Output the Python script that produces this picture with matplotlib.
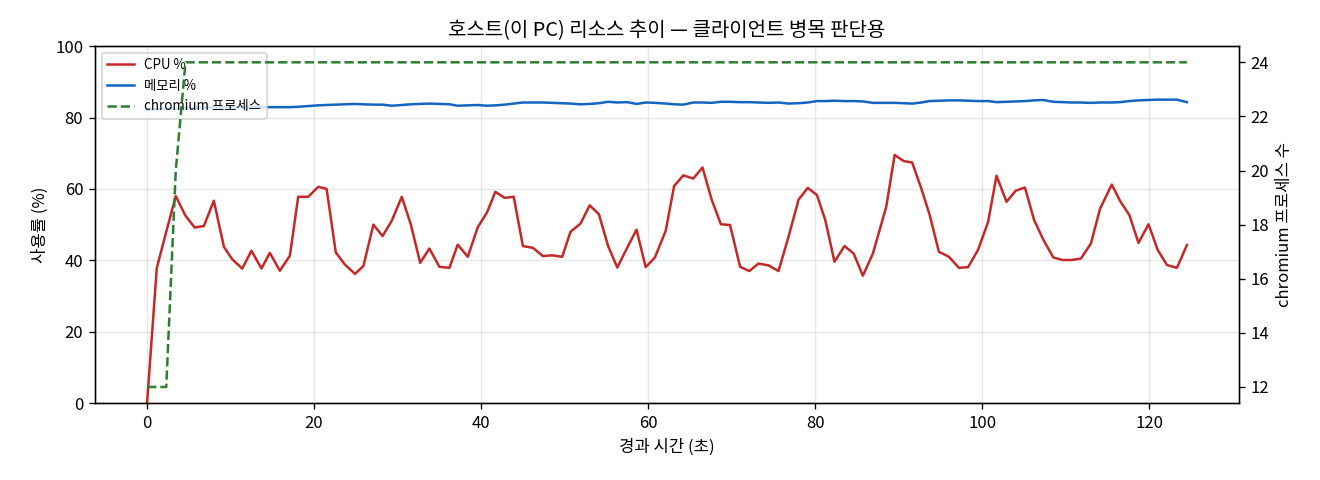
import matplotlib
matplotlib.use("Agg")
import matplotlib.pyplot as plt

plt.rcParams['font.family'] = ['Noto Sans CJK KR', 'DejaVu Sans']
plt.rcParams['axes.unicode_minus'] = False

# elapsed seconds of each sample
elapsed = [
    0.0, 1.17, 2.3, 3.44, 4.6, 5.7, 6.8, 8.0, 9.2, 10.2,
    11.4, 12.5, 13.7, 14.7, 15.9, 17.1, 18.1, 19.3, 20.5, 21.5,
    22.6, 23.7, 24.9, 25.9, 27.1, 28.2, 29.3, 30.5, 31.6, 32.7,
    33.8, 35.0, 36.2, 37.2, 38.4, 39.6, 40.7, 41.7, 42.8, 43.9,
    45.0, 46.2, 47.4, 48.5, 49.7, 50.7, 51.9, 53.0, 54.1, 55.2,
    56.3, 57.5, 58.6, 59.7, 60.8, 62.1, 63.1, 64.2, 65.4, 66.5,
    67.6, 68.7, 69.8, 71.0, 72.1, 73.2, 74.4, 75.6, 76.8, 78.0,
    79.1, 80.2, 81.2, 82.3, 83.5, 84.6, 85.7, 86.9, 88.5, 89.5,
    90.6, 91.6, 92.7, 93.7, 94.8, 96.0, 97.2, 98.3, 99.5, 100.7,
    101.7, 102.9, 104.0, 105.1, 106.2, 107.3, 108.5, 109.6, 110.7, 111.8,
    113.0, 114.1, 115.5, 116.5, 117.6, 118.7, 119.9, 121.0, 122.1, 123.3,
    124.5,
]

cpu_pct = [
    0.0, 37.9, 48.0, 58.0, 52.5, 49.2, 49.6, 56.7, 43.8, 40.3,
    37.7, 42.7, 37.7, 42.1, 37.1, 41.3, 57.8, 57.8, 60.6, 60.0,
    42.2, 38.8, 36.2, 38.4, 50.0, 46.8, 51.1, 57.8, 49.9, 39.3,
    43.3, 38.2, 37.9, 44.4, 41.0, 49.3, 53.4, 59.2, 57.5, 57.8,
    44.0, 43.5, 41.2, 41.4, 41.0, 48.0, 50.3, 55.4, 52.9, 44.0,
    38.0, 43.6, 48.6, 38.1, 40.8, 48.3, 60.8, 63.8, 62.9, 66.0,
    57.0, 50.1, 49.9, 38.2, 37.0, 39.1, 38.6, 37.0, 46.6, 57.0,
    60.3, 58.3, 51.3, 39.6, 44.0, 41.9, 35.7, 41.9, 55.0, 69.5,
    67.8, 67.4, 60.1, 52.7, 42.4, 41.0, 37.9, 38.1, 43.0, 50.8,
    63.7, 56.4, 59.5, 60.4, 51.3, 45.8, 40.8, 40.1, 40.1, 40.5,
    44.7, 54.5, 61.2, 56.6, 52.7, 44.9, 50.1, 42.9, 38.7, 37.9,
    44.3,
]

mem_pct = [
    82.2, 82.3, 82.4, 82.5, 82.6, 82.7, 82.8, 82.8, 82.9, 82.9,
    82.8, 82.8, 82.9, 82.9, 82.9, 82.9, 83.0, 83.2, 83.4, 83.5,
    83.6, 83.7, 83.8, 83.7, 83.6, 83.6, 83.3, 83.5, 83.7, 83.8,
    83.9, 83.8, 83.7, 83.3, 83.4, 83.5, 83.3, 83.4, 83.6, 83.9,
    84.2, 84.2, 84.2, 84.1, 84.0, 83.9, 83.7, 83.8, 84.0, 84.4,
    84.2, 84.3, 83.8, 84.2, 84.1, 83.9, 83.7, 83.6, 84.2, 84.2,
    84.1, 84.4, 84.4, 84.3, 84.3, 84.2, 84.1, 84.2, 83.9, 84.0,
    84.2, 84.6, 84.6, 84.7, 84.6, 84.6, 84.5, 84.1, 84.1, 84.1,
    84.0, 83.9, 84.2, 84.6, 84.7, 84.8, 84.8, 84.7, 84.6, 84.6,
    84.3, 84.4, 84.5, 84.6, 84.8, 84.9, 84.4, 84.3, 84.2, 84.2,
    84.1, 84.2, 84.2, 84.3, 84.6, 84.8, 84.9, 85.0, 85.0, 85.0,
    84.3,
]

chromium_procs = [12, 12, 12, 20] + [24] * 107

fig, ax1 = plt.subplots(figsize=(11, 4), dpi=120)
fig.subplots_adjust(left=0.072, right=0.9386, top=0.904, bottom=0.16)

l1, = ax1.plot(elapsed, cpu_pct, color='#c62828', lw=1.5, label='CPU %')
l2, = ax1.plot(elapsed, mem_pct, color='#1565c0', lw=1.5, label='메모리 %')
ax1.set_ylim(0, 100)
ax1.set_xlabel('경과 시간 (초)')
ax1.set_ylabel('사용률 (%)')
ax1.grid(True, alpha=0.3)

ax2 = ax1.twinx()
l3, = ax2.plot(elapsed, chromium_procs, color='#2e7d32', lw=1.5, ls='--',
               label='chromium 프로세스')
ax2.set_ylabel('chromium 프로세스 수')

ax1.set_title('호스트(이 PC) 리소스 추이 — 클라이언트 병목 판단용')
ax1.legend(handles=[l1, l2, l3], loc='upper left', fontsize=8)

fig.savefig('out.png', dpi=120)
